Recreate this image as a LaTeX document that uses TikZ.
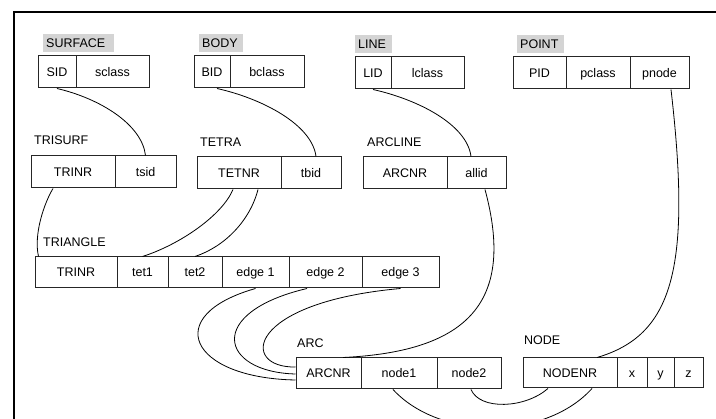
\documentclass[tikz,border=0pt]{standalone}
\usepackage{fontspec}
\setmainfont{Liberation Sans}
\usetikzlibrary{calc}
\definecolor{tagfill}{HTML}{D4D4D4}
\tikzset{
  cell/.style={draw=black!85, line width=1pt, minimum height=32pt, inner sep=0pt,
    text height=9pt, text depth=0pt, font=\fontsize{12.5}{14}\selectfont},
  tag/.style={fill=tagfill, inner xsep=3pt, minimum height=18pt, align=left,
    text width=#1, text height=9pt, text depth=0pt, anchor=north west,
    font=\fontsize{12.5}{14}\selectfont},
  title/.style={inner sep=0pt, anchor=base west, font=\fontsize{12.5}{14}\selectfont},
  link/.style={draw=black, line width=0.8pt},
  frameline/.style={draw=black, line width=1.6pt}
}
\begin{document}
\begin{tikzpicture}[x=1pt,y=-1pt]
\useasboundingbox (0,0) rectangle (716,419);
\clip (0,0) rectangle (716,419);

% outer frame
\draw[frameline] (14,419) -- (14,12) -- (716,12);

% SURFACE
\node[tag=65pt] (tSurface) at (43,34) {SURFACE};
\node[cell, minimum width=38pt] (sid) at (57,72) {SID};
\node[cell, minimum width=73pt] (sclass) at (112.5,72) {sclass};

% BODY
\node[tag=38pt] (tBody) at (199,34) {BODY};
\node[cell, minimum width=36pt] (bid) at (212,72) {BID};
\node[cell, minimum width=74pt] (bclass) at (267,72) {bclass};

% LINE
\node[tag=31pt] (tLine) at (355,35) {LINE};
\node[cell, minimum width=36pt] (lid) at (373,73) {LID};
\node[cell, minimum width=73pt] (lclass) at (427.5,73) {lclass};

% POINT
\node[tag=41pt] (tPoint) at (517,35) {POINT};
\node[cell, minimum width=53pt] (pid) at (539.5,73) {PID};
\node[cell, minimum width=64pt] (pclass) at (598,73) {pclass};
\node[cell, minimum width=59pt] (pnode) at (659.5,73) {pnode};

% TRISURF
\node[title] (tTrisurf) at (34,145) {TRISURF};
\node[cell, minimum width=84pt] (trinrA) at (73,172) {TRINR};
\node[cell, minimum width=61pt] (tsid) at (145.5,172) {tsid};

% TETRA
\node[title] (tTetra) at (200,147) {TETRA};
\node[cell, minimum width=84pt] (tetnr) at (239,173) {TETNR};
\node[cell, minimum width=60pt] (tbid) at (311,173) {tbid};

% ARCLINE
\node[title] (tArcline) at (367,147) {ARCLINE};
\node[cell, minimum width=84pt] (arcnrA) at (405,173) {ARCNR};
\node[cell, minimum width=59pt] (allid) at (476.5,173) {allid};

% TRIANGLE
\node[title] (tTriangle) at (43,247) {TRIANGLE};
\node[cell, minimum width=82pt, minimum height=31pt] (trinrB) at (76,272.5) {TRINR};
\node[cell, minimum width=51pt, minimum height=31pt] (tet1) at (142.5,272.5) {tet1};
\node[cell, minimum width=54pt, minimum height=31pt] (tet2) at (195,272.5) {tet2};
\node[cell, minimum width=67pt, minimum height=31pt] (edge1) at (255.5,272.5) {edge 1};
\node[cell, minimum width=73pt, minimum height=31pt] (edge2) at (325.5,272.5) {edge 2};
\node[cell, minimum width=77pt, minimum height=31pt] (edge3) at (400.5,272.5) {edge 3};

% ARC
\node[title] (tArc) at (297,348) {ARC};
\node[cell, minimum width=65pt, minimum height=31pt] (arcnrB) at (328.5,373.5) {ARCNR};
\node[cell, minimum width=76pt, minimum height=31pt] (node1) at (399,373.5) {node1};
\node[cell, minimum width=64pt, minimum height=31pt] (node2) at (469,373.5) {node2};

% NODE
\node[title] (tNode) at (524,345) {NODE};
\node[cell, minimum width=94pt, minimum height=30pt] (nodenr) at (570,373) {NODENR};
\node[cell, minimum width=30pt, minimum height=30pt] (cx) at (632,373) {x};
\node[cell, minimum width=27pt, minimum height=30pt] (cy) at (660.5,373) {y};
\node[cell, minimum width=29pt, minimum height=30pt] (cz) at (688.5,373) {z};

% references between tables
\path[link] (sid.south) .. controls +(43,10) and +(-3.5,-31) .. (tsid.north);
\path[link] ($(bid.south)+(5,0)$) .. controls +(45,10) and +(-4,-32) .. ($(tbid.north)+(5,0)$);
\path[link] (lid.south) .. controls +(45,10) and +(-4,-32) .. ($(allid.north)+(-5.5,0)$);
\path[link] ($(trinrA.south)+(-20,0)$) .. controls +(-9,15) and +(-5,-22) .. ($(trinrB.north west)+(4,0)$);
\path[link] ($(tetnr.south)+(-6,0)$) .. controls +(-11,26) and +(37.5,-12) .. (tet1.north);
\path[link] ($(tetnr.south)+(19,0)$) .. controls +(-8,31) and +(30,-10) .. (tet2.north);
\path[link] (edge1.south) .. controls +(-95,27) and +(-106,-2) .. ($(arcnrB.west)+(0,6.5)$);
\path[link] ($(edge2.south)+(-18.5,0)$) .. controls +(-102,24) and +(-76,-2) .. ($(arcnrB.west)+(0,0.5)$);
\path[link] (edge3.south) .. controls +(-155,14) and +(-56,1) .. ($(arcnrB.west)+(0,-6.5)$);
\path[link] ($(allid.south)+(8.5,0)$) .. controls +(30,111) and +(127,-6) .. ($(arcnrB.north)+(14.5,0)$);
\path[link] ($(pnode.south)+(11.5,0)$) .. controls +(21,181) and +(75,-22) .. ($(nodenr.north)+(27,0)$);
\path[link] ($(node1.south)+(-6,0)$) .. controls +(47,51) and +(-47,52) .. ($(nodenr.south)+(22,0)$);
\path[link] ($(node2.south)+(2,0)$) .. controls +(9,21) and +(-23,20) .. ($(nodenr.south)+(-22,0)$);
\end{tikzpicture}
\end{document}
